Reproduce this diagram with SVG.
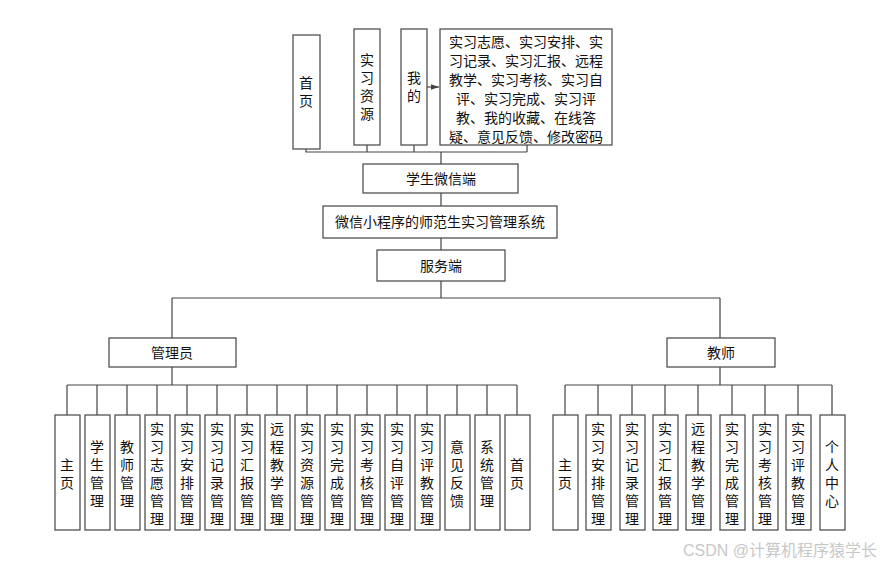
<svg xmlns="http://www.w3.org/2000/svg" width="884" height="564" viewBox="0 0 884 564">
<style>
rect{fill:#fff;stroke:#444;stroke-width:1.2}
text{font-family:"Liberation Sans","Noto Sans CJK SC",sans-serif;font-size:14px;fill:#111;text-anchor:middle}
.c path{fill:none;stroke:#444;stroke-width:1.2}
.wm{fill:#c8c8c8;font-size:16px}
</style>
<defs><marker id="a" markerWidth="8" markerHeight="8" refX="7" refY="4" orient="auto"><path d="M0,1.5 L7,4 L0,6.5z" fill="#444"/></marker></defs>
<rect x="0" y="0" width="884" height="564" style="stroke:none"/>
<g class="c">
<path d="M306,149V152H527M367,145V152M414,145V152M527,145V152M441,152V164"/>
<path d="M426,87H439" marker-end="url(#a)"/>
<path d="M441,193V206M441,238V250M441,281V298M172,298H720M172,298V338M720,298V338"/>
<path d="M172,367V385M67,385H517M67,385V415M97,385V415M127,385V415M157,385V415M187,385V415M217,385V415M247,385V415M277,385V415M307,385V415M337,385V415M367,385V415M397,385V415M427,385V415M457,385V415M487,385V415M517,385V415"/>
<path d="M720,367V385M565,385H832M565,385V415M598,385V415M632,385V415M665,385V415M698,385V415M732,385V415M765,385V415M798,385V415M832,385V415"/>
</g>
<g id="n-home"><rect x="293" y="35" width="27" height="114"/><text x="306" y="88">首</text><text x="306" y="106">页</text></g>
<g id="n-res"><rect x="354" y="29" width="26" height="116"/><text x="367" y="65">实</text><text x="367" y="83">习</text><text x="367" y="101">资</text><text x="367" y="119">源</text></g>
<g id="n-my"><rect x="401" y="29" width="26" height="116"/><text x="414" y="83">我</text><text x="414" y="101">的</text></g>
<g id="n-list"><rect x="440" y="29" width="172" height="116"/>
<text x="526" y="47">实习志愿、实习安排、实</text><text x="526" y="66">习记录、实习汇报、远程</text><text x="526" y="85">教学、实习考核、实习自</text><text x="526" y="104">评、实习完成、实习评</text><text x="526" y="123">教、我的收藏、在线答</text><text x="526" y="142">疑、意见反馈、修改密码</text></g>
<g id="n-wx"><rect x="363" y="164" width="155" height="29"/><text x="441" y="184">学生微信端</text></g>
<g id="n-sys"><rect x="323" y="206" width="234" height="32"/><text x="440" y="227">微信小程序的师范生实习管理系统</text></g>
<g id="n-srv"><rect x="377" y="250" width="128" height="31"/><text x="441" y="271">服务端</text></g>
<g id="n-admin"><rect x="109" y="338" width="127" height="29"/><text x="172" y="358">管理员</text></g>
<g id="n-teacher"><rect x="667" y="338" width="108" height="29"/><text x="721" y="358">教师</text></g>
<g id="admin-children">
<g><rect x="55" y="415" width="25" height="115"/><text x="67" y="470">主</text><text x="67" y="488">页</text></g>
<g><rect x="85" y="415" width="25" height="115"/><text x="97" y="452">学</text><text x="97" y="470">生</text><text x="97" y="488">管</text><text x="97" y="506">理</text></g>
<g><rect x="115" y="415" width="25" height="115"/><text x="127" y="452">教</text><text x="127" y="470">师</text><text x="127" y="488">管</text><text x="127" y="506">理</text></g>
<g><rect x="145" y="415" width="25" height="115"/><text x="157" y="434">实</text><text x="157" y="452">习</text><text x="157" y="470">志</text><text x="157" y="488">愿</text><text x="157" y="506">管</text><text x="157" y="524">理</text></g>
<g><rect x="175" y="415" width="25" height="115"/><text x="187" y="434">实</text><text x="187" y="452">习</text><text x="187" y="470">安</text><text x="187" y="488">排</text><text x="187" y="506">管</text><text x="187" y="524">理</text></g>
<g><rect x="205" y="415" width="25" height="115"/><text x="217" y="434">实</text><text x="217" y="452">习</text><text x="217" y="470">记</text><text x="217" y="488">录</text><text x="217" y="506">管</text><text x="217" y="524">理</text></g>
<g><rect x="235" y="415" width="25" height="115"/><text x="247" y="434">实</text><text x="247" y="452">习</text><text x="247" y="470">汇</text><text x="247" y="488">报</text><text x="247" y="506">管</text><text x="247" y="524">理</text></g>
<g><rect x="265" y="415" width="25" height="115"/><text x="277" y="434">远</text><text x="277" y="452">程</text><text x="277" y="470">教</text><text x="277" y="488">学</text><text x="277" y="506">管</text><text x="277" y="524">理</text></g>
<g><rect x="295" y="415" width="25" height="115"/><text x="307" y="434">实</text><text x="307" y="452">习</text><text x="307" y="470">资</text><text x="307" y="488">源</text><text x="307" y="506">管</text><text x="307" y="524">理</text></g>
<g><rect x="325" y="415" width="25" height="115"/><text x="337" y="434">实</text><text x="337" y="452">习</text><text x="337" y="470">完</text><text x="337" y="488">成</text><text x="337" y="506">管</text><text x="337" y="524">理</text></g>
<g><rect x="355" y="415" width="25" height="115"/><text x="367" y="434">实</text><text x="367" y="452">习</text><text x="367" y="470">考</text><text x="367" y="488">核</text><text x="367" y="506">管</text><text x="367" y="524">理</text></g>
<g><rect x="385" y="415" width="25" height="115"/><text x="397" y="434">实</text><text x="397" y="452">习</text><text x="397" y="470">自</text><text x="397" y="488">评</text><text x="397" y="506">管</text><text x="397" y="524">理</text></g>
<g><rect x="415" y="415" width="25" height="115"/><text x="427" y="434">实</text><text x="427" y="452">习</text><text x="427" y="470">评</text><text x="427" y="488">教</text><text x="427" y="506">管</text><text x="427" y="524">理</text></g>
<g><rect x="445" y="415" width="25" height="115"/><text x="457" y="452">意</text><text x="457" y="470">见</text><text x="457" y="488">反</text><text x="457" y="506">馈</text></g>
<g><rect x="475" y="415" width="25" height="115"/><text x="487" y="452">系</text><text x="487" y="470">统</text><text x="487" y="488">管</text><text x="487" y="506">理</text></g>
<g><rect x="505" y="415" width="25" height="115"/><text x="517" y="470">首</text><text x="517" y="488">页</text></g>
</g>
<g id="teacher-children">
<g><rect x="553" y="415" width="25" height="115"/><text x="565" y="470">主</text><text x="565" y="488">页</text></g>
<g><rect x="586" y="415" width="25" height="115"/><text x="598" y="434">实</text><text x="598" y="452">习</text><text x="598" y="470">安</text><text x="598" y="488">排</text><text x="598" y="506">管</text><text x="598" y="524">理</text></g>
<g><rect x="620" y="415" width="25" height="115"/><text x="632" y="434">实</text><text x="632" y="452">习</text><text x="632" y="470">记</text><text x="632" y="488">录</text><text x="632" y="506">管</text><text x="632" y="524">理</text></g>
<g><rect x="653" y="415" width="25" height="115"/><text x="665" y="434">实</text><text x="665" y="452">习</text><text x="665" y="470">汇</text><text x="665" y="488">报</text><text x="665" y="506">管</text><text x="665" y="524">理</text></g>
<g><rect x="686" y="415" width="25" height="115"/><text x="698" y="434">远</text><text x="698" y="452">程</text><text x="698" y="470">教</text><text x="698" y="488">学</text><text x="698" y="506">管</text><text x="698" y="524">理</text></g>
<g><rect x="720" y="415" width="25" height="115"/><text x="732" y="434">实</text><text x="732" y="452">习</text><text x="732" y="470">完</text><text x="732" y="488">成</text><text x="732" y="506">管</text><text x="732" y="524">理</text></g>
<g><rect x="753" y="415" width="25" height="115"/><text x="765" y="434">实</text><text x="765" y="452">习</text><text x="765" y="470">考</text><text x="765" y="488">核</text><text x="765" y="506">管</text><text x="765" y="524">理</text></g>
<g><rect x="786" y="415" width="25" height="115"/><text x="798" y="434">实</text><text x="798" y="452">习</text><text x="798" y="470">评</text><text x="798" y="488">教</text><text x="798" y="506">管</text><text x="798" y="524">理</text></g>
<g><rect x="820" y="415" width="25" height="115"/><text x="832" y="452">个</text><text x="832" y="470">人</text><text x="832" y="488">中</text><text x="832" y="506">心</text></g>
</g>
<text class="wm" x="780" y="556">CSDN @计算机程序猿学长</text>
</svg>
